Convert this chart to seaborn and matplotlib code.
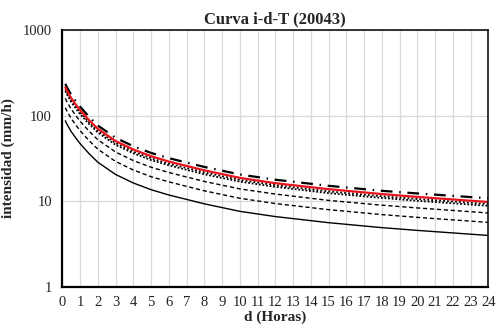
import matplotlib
matplotlib.use("Agg")
import matplotlib.pyplot as plt
import seaborn as sns
import pandas as pd
from matplotlib.ticker import FixedLocator, FixedFormatter, NullLocator

# Duration (hours)
d_horas = [0.17, 0.25, 0.5, 0.75, 1, 1.5, 2, 3, 4, 5, 6, 8, 10, 12, 15, 18, 20, 24]

# Intensity (mm/h) for each return period
i_t2 = [87, 80, 65, 55, 47, 36, 28.5, 20.5, 16.3, 13.6, 11.8, 9.3, 7.6, 6.6, 5.6, 4.9, 4.55, 3.97]
i_t5 = [123.5, 113.6, 92.3, 78.1, 66.7, 51.1, 40.5, 29.1, 23.1, 19.3, 16.8, 13.2, 10.8, 9.37, 7.95, 6.96, 6.46, 5.64]
i_t10 = [159, 146, 119, 100.7, 86, 65.9, 52.2, 37.5, 29.8, 24.9, 21.6, 17.0, 13.9, 12.1, 10.2, 8.97, 8.33, 7.27]
i_t25 = [193, 178, 144, 122, 104, 80, 63.3, 45.5, 36.2, 30.2, 26.2, 20.6, 16.9, 14.7, 12.4, 10.9, 10.1, 8.81]
i_t50 = [203, 186, 151, 128, 109.5, 83.9, 66.4, 47.8, 38, 31.7, 27.5, 21.7, 17.7, 15.4, 13.0, 11.4, 10.6, 9.25]
i_t75 = [214, 197, 160, 135, 115.6, 88.6, 70.1, 50.4, 40.1, 33.5, 29.0, 22.9, 18.7, 16.2, 13.8, 12.1, 11.2, 9.77]
i_t100 = [235, 216, 175, 148, 127, 97, 76.5, 55, 43.8, 36.6, 31.8, 25.1, 20.5, 17.8, 15.1, 13.2, 12.3, 10.8]

titulo = "Curva i-d-T (20043)"
x_label = "d (Horas)"
y_label = "intensidad (mm/h)"
x_ticks = list(range(0, 25))
y_ticks = [1, 10, 100, 1000]
y_tick_labels = ["1", "10", "100", "1000"]

series = [
    ("T = 2", i_t2, dict(color="black", linewidth=1.0, linestyle="-")),
    ("T = 5", i_t5, dict(color="black", linewidth=1.0, dashes=(3, 2))),
    ("T = 10", i_t10, dict(color="black", linewidth=1.0, dashes=(3, 2))),
    ("T = 25", i_t25, dict(color="black", linewidth=1.3, dashes=(1, 1))),
    ("T = 50", i_t50, dict(color="black", linewidth=1.3, dashes=(1, 1.2))),
    ("T = 75", i_t75, dict(color="#e8141b", linewidth=1.6, linestyle="-")),
    ("T = 100", i_t100, dict(color="black", linewidth=1.6, dashes=(5.3, 3, 0.7, 3))),
]

sns.set_theme(style="white")
plt.rcParams["font.family"] = ["Liberation Serif", "DejaVu Serif"]

fig = plt.figure(figsize=(4.97, 3.29), dpi=100)
ax = fig.add_axes([0.1254, 0.1286, 0.8571, 0.7802])

# draw in order so the red and dash-dot curves sit on top
for nombre, valores, estilo in [series[0], series[1], series[2], series[3], series[4], series[6], series[5]]:
    df = pd.DataFrame({"d": d_horas, "i": valores})
    sns.lineplot(data=df, x="d", y="i", ax=ax, legend=False, **estilo)

ax.set_yscale("log")
ax.set_xlim(0, 24)
ax.set_ylim(1, 1000)

ax.xaxis.set_major_locator(FixedLocator(x_ticks))
ax.yaxis.set_major_locator(FixedLocator(y_ticks))
ax.yaxis.set_major_formatter(FixedFormatter(y_tick_labels))
ax.yaxis.set_minor_locator(NullLocator())

ax.grid(True, which="major", color="#d9d9d9", linewidth=0.9)
ax.set_axisbelow(True)

for lado in ["left", "right", "top", "bottom"]:
    ax.spines[lado].set_visible(True)
    ax.spines[lado].set_color("black")
    ax.spines[lado].set_linewidth(1.1)
ax.spines["left"].set_linewidth(1.6)
ax.spines["bottom"].set_linewidth(1.6)

ax.tick_params(axis="both", which="both", length=0, labelsize=10.5, colors="#222222")
ax.tick_params(axis="x", pad=7)
ax.tick_params(axis="y", pad=7.5)

ax.set_title(titulo, fontsize=12, fontweight="bold", pad=5)
ax.set_xlabel(x_label, fontsize=11, fontweight="bold", labelpad=1)
ax.set_ylabel(y_label, fontsize=11, fontweight="bold")
ax.yaxis.set_label_coords(-0.112, 0.5)

fig.savefig("out.png", dpi=100)
